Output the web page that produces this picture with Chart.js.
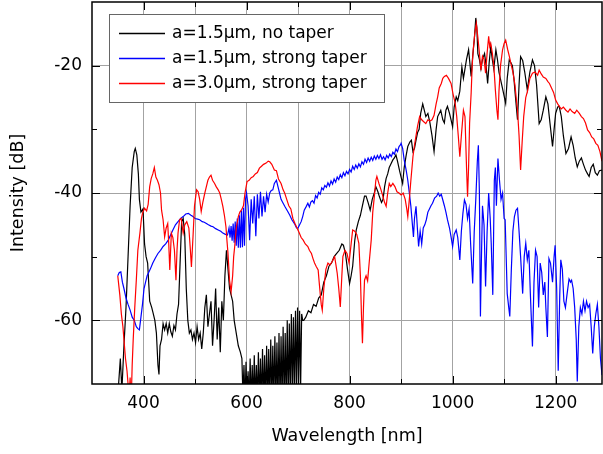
<!DOCTYPE html>
<html><head><meta charset="utf-8">
<script src="https://cdn.jsdelivr.net/npm/chart.js@4.4.0/dist/chart.umd.min.js"></script>
<style>html,body{margin:0;padding:0;background:#fff;}#wrap{width:603px;height:454px;position:relative;}</style>
</head><body><div id="wrap"><canvas id="c" width="603" height="454"></canvas></div>
<script>
// ---- DATA ----
const seriesLabels = ['a=1.5\u03bcm, no taper', 'a=1.5\u03bcm, strong taper', 'a=3.0\u03bcm, strong taper'];
const xTickLabels = [400, 600, 800, 1000, 1200];
const xGridValues = [300, 400, 500, 600, 700, 800, 900, 1000, 1100, 1200, 1290];
const yTickLabels = [-20, -40, -60];

const blackX = [350,355,358,362,366,370,374,378,382,384,387,390,392,395,399,402,405,408,412,416,419,422,425,428,430,432,435,438,441,444,447,450,453,456,459,462,465,468,471,474,477,480,483,486,489,492,495,498,501,504,507,510,513,516,519,522,525,528,531,534,537,540,543,546,549,552,555,558,561,564,567,570,573,576,580,584,588,591,
593,595,597,599,601,603,605,607,609,611,613,615,617,619,621,623,625,627,629,631,633,635,637,639,641,643,645,647,649,651,653,655,657,659,661,663,665,667,669,671,673,675,677,679,681,683,685,687,689,691,693,695,697,699,701,703,705,707,709,
711,715,720,725,730,735,740,745,750,755,760,765,770,775,780,785,788,792,796,800,803,806,810,813,817,821,825,829,832,836,840,844,848,851,855,858,862,865,868,871,874,877,880,884,887,890,893,897,900,903,906,910,913,917,920,923,926,929,932,935,938,942,945,948,952,956,960,964,968,971,974,977,981,984,987,990,994,997,1000,1003,1007,1010,1014,1018,1021,1024,1027,1031,1034,1036,1039,1042,1045,1047,1049,1052,1055,1058,1062,1065,1068,1071,1074,1077,1080,1084,1087,1090,1094,1098,1103,1106,1110,1113,1116,1119,1122,1126,1129,1132,1136,1140,1145,1150,1155,1159,1163,1168,1172,1176,1181,1185,1189,1194,1197,1200,1204,1207,1211,1215,1220,1225,1230,1234,1238,1242,1246,1250,1254,1258,1262,1265,1269,1273,1277,1281,1285,1290];
const blackY = [-72,-66,-71,-64,-58,-50,-42,-36,-33.5,-33,-34,-37,-41,-43,-42.5,-48,-50,-51,-57,-58,-59,-60,-62,-67,-68.5,-64,-63,-60.5,-61.5,-60.5,-62,-60.5,-61.8,-62.5,-60.8,-61.5,-59,-57.5,-51,-44.5,-44,-46.5,-55,-60,-62,-61.5,-63,-62,-63.5,-61,-63,-62,-64.5,-62,-58,-56,-61,-59,-57,-64,-60,-55,-63,-58,-65,-57,-60,-53,-49,-52,-55,-56,-57,-60,-62,-64,-65,-66,
-72,-67,-73,-66.5,-73,-68,-73,-66,-73,-67,-73,-65.5,-73,-67,-73,-65,-73,-66,-73,-64.5,-73,-65.5,-73,-64,-73,-64.5,-73,-63,-73,-64,-73,-62.5,-73,-63.5,-73,-62,-73,-62.5,-73,-61,-73,-62,-73,-60,-73,-60.5,-72,-59,-72,-59.5,-72,-58.5,-71,-58,-71,-58.5,-70.5,-59,-60,
-60,-59.5,-58.5,-58.8,-57.5,-57.8,-56.5,-56,-54,-53,-51.5,-51,-50,-49.5,-49,-48,-48.2,-49.5,-52,-54.2,-53,-51.5,-47.5,-45.8,-44.5,-43.5,-42,-40.5,-40.5,-41.5,-42.7,-41,-40,-39,-39.8,-40.6,-41.5,-41,-39,-37.7,-37,-36,-35.5,-34.8,-34.5,-34,-35,-36.5,-37.5,-38.5,-36,-34,-32.7,-32,-31.7,-33.5,-33,-31.7,-30.5,-30,-27.5,-26,-27,-28,-27.5,-29,-31,-33.5,-30,-28,-27.5,-27,-28.5,-29,-27,-26.4,-27.5,-28.5,-29.6,-26.5,-24.9,-25.5,-24,-20.2,-22,-20.5,-19,-17.5,-20,-21.7,-18.5,-16,-12.5,-14,-18.1,-19,-20.5,-19,-18.1,-20,-22.8,-19.5,-17,-19,-20.5,-17.5,-19,-21,-22.5,-24,-25.9,-22,-19.1,-19.5,-20,-22,-24.9,-28.5,-23,-18.6,-19.2,-21,-23.8,-21,-19.1,-20,-23,-29.1,-28.5,-27,-24.9,-26,-29,-32.7,-30,-27.5,-26.5,-26.4,-28,-31,-33.8,-33,-31.2,-32.5,-34.5,-35.9,-35,-34.5,-35.5,-36.4,-37,-37.4,-36,-35.5,-36.8,-37.2,-36.5,-36.4];

const blueX = [350,353,356,359,362,366,370,374,378,382,386,389,392,395,398,401,404,407,410,414,418,423,428,433,438,443,448,453,457,462,467,472,477,482,487,492,496,500,505,509,514,518,522,526,531,535,540,545,550,554,559,563,566,568,570,572,574,576,578,580,582,584,586,588,590,592,594,596,598,600,603,606,609,612,615,618,621,624,627,630,633,636,639,642,645,648,651,654,658,661,664,667,671,675,680,684,688,693,697,700,703,706,709,712,
716,719,722,725,728,731,734,737,740,743,746,749,752,755,758,761,764,767,770,773,776,779,782,785,788,791,794,797,800,803,806,809,812,815,818,821,824,827,830,833,836,839,842,845,848,851,854,857,860,863,866,869,872,875,878,881,884,887,890,893,896,899,
900,903,906,910,913,916,919,922,924,926,929,932,934,937,940,943,946,949,952,955,958,961,965,969,972,975,978,981,984,987,990,994,997,1000,1003,1007,1010,1014,1017,1020,1023,1026,1029,1032,1035,1039,1042,1045,1048,1050,1052,1054,1056,1058,1061,1064,1067,1070,1073,1075,1078,1081,1083,1085,1088,1091,1094,1097,1100,1102,1104,1106,1109,1111,1114,1117,1120,1123,1126,1129,1132,1136,1139,1142,1145,1148,1151,1155,1158,1161,1164,1167,1170,1173,1176,1179,1181,1184,1187,1190,1194,1197,1199,1202,1205,1208,1210,1213,1216,1219,1222,1226,1229,1231,1234,1237,1240,1242,1245,1248,1251,1254,1257,1260,1263,1266,1269,1272,1275,1278,1281,1284,1287,1290];
const blueY = [-53,-52.5,-52.4,-54,-55,-56.5,-57.5,-58.4,-59.5,-60,-61,-61.3,-61.5,-59.5,-57.5,-55,-54,-53,-52.5,-51.8,-51,-50.2,-49.5,-49,-48.4,-48,-47.4,-46.5,-45.8,-45,-44.5,-44,-43.7,-43.3,-43.2,-43.5,-43.7,-44,-44.1,-44.2,-44.5,-44.6,-44.8,-45,-45.2,-45.3,-45.6,-45.8,-46,-46.3,-46.5,-46.6,-45.5,-47,-45.2,-47.5,-44.8,-47.8,-44.5,-48.3,-44,-48.6,-43.5,-48.6,-42.8,-48.5,-42.3,-48.3,-41,-40,-42,-47.4,-41,-44.8,-40.5,-46.8,-40.2,-44,-39.8,-43.7,-40.5,-43,-40.2,-41.4,-40,-39.6,-39.5,-38.5,-38,-39,-40,-41,-41.6,-42.2,-42.9,-43.5,-44.2,-44.8,-45.5,-45.5,-45,-44.5,-43.7,-42.7,
-42.1,-41.6,-42.2,-41.4,-41.2,-41.6,-40.4,-40.8,-39.9,-40.2,-39.2,-39.5,-38.8,-39.1,-38.4,-38.9,-38.1,-38.6,-37.8,-38.3,-37.5,-37.9,-37.1,-37.6,-36.8,-37.3,-36.6,-37,-36.3,-36.7,-35.8,-36.3,-35.6,-36.1,-35.4,-35.9,-35.1,-35.5,-34.7,-35.2,-34.5,-35,-34.4,-34.9,-34.2,-34.7,-34.1,-34.6,-34,-34.7,-34.3,-34.8,-34.1,-34.5,-33.9,-34.3,-33.6,-33.9,-33.1,-33.5,-32.7,-32.4,
-32.2,-33,-34.8,-36.5,-38,-40,-42.1,-45,-46.9,-44,-42.1,-46,-48.4,-46,-48,-45.5,-45,-44.2,-43,-42.5,-42,-41.6,-40.8,-40.5,-40,-40.5,-40.2,-41.1,-42,-43,-44.2,-45.5,-46.9,-48.4,-46.5,-45.8,-47,-50.5,-46,-43.2,-41.1,-41.8,-44,-42.5,-48,-54.2,-46,-41,-35,-32.5,-40,-59.4,-50,-42,-45,-54.7,-46,-40,-44,-48,-56,-38,-36,-42,-34.6,-38,-41,-40,-44,-44.2,-50,-55.8,-58,-59.4,-52,-46,-43.7,-42.7,-42.4,-46,-50,-55.8,-50,-47.9,-50.5,-49,-56,-64.1,-54,-49,-50,-58,-51,-52.5,-56,-54,-58,-62.6,-50.3,-51,-54,-50,-48.2,-55,-67.9,-56,-50.5,-52,-57,-58,-56,-53.5,-54,-53.7,-55,-58,-63,-69.6,-61,-58,-59,-57,-58.5,-57,-58,-57.5,-61,-65.2,-61,-59,-57.5,-61,-66,-68.6];

const redX = [350,354,357,360,362,365,368,370,372,374,376,378,380,383,386,389,393,396,398,402,406,409,412,415,418,421,424,427,430,433,435,438,441,444,447,449,451,454,457,460,463,465,467,470,473,477,480,484,488,491,493,496,499,503,506,509,512,515,519,522,525,528,531,534,538,541,545,548,551,554,557,560,562,564,567,570,573,575,577,580,584,587,590,594,597,601,605,609,613,617,621,625,629,633,638,642,645,649,654,658,662,667,671,674,678,682,686,690,694,698,702,706,710,714,719,722,726,729,732,735,739,741,743,745,747,750,754,758,762,766,771,773,776,779,782,785,787,791,795,799,803,806,810,814,818,821,823,825,827,829,832,835,838,842,845,848,851,853,857,861,865,868,871,874,877,880,884,888,892,896,900,904,908,911,913,916,919,923,926,929,932,936,940,944,948,952,956,960,964,968,971,974,978,981,984,988,992,997,1001,1005,1008,1011,1014,1017,1021,1024,1027,1029,1031,1033,1036,1038,1040,1043,1046,1049,1052,1055,1058,1061,1064,1067,1070,1072,1074,1077,1080,1083,1086,1088,1090,1093,1097,1100,1103,1107,1110,1113,1117,1121,1124,1126,1129,1132,1135,1138,1142,1146,1150,1155,1160,1165,1168,1172,1176,1181,1185,1188,1192,1196,1200,1204,1207,1211,1215,1220,1224,1228,1232,1237,1241,1246,1250,1254,1258,1262,1266,1270,1274,1278,1282,1286,1290];
const redY = [-53,-56,-59,-61,-63,-66,-68,-70,-72,-69,-73,-67,-63,-58,-53.7,-49,-46.3,-44,-43.2,-42.4,-42.8,-41.8,-39,-37.7,-37,-36,-37.5,-38,-38.7,-40,-42.7,-44.2,-46.9,-45.5,-44.8,-48,-52.1,-46.3,-47,-49,-53.7,-49,-46.3,-44.2,-44,-46.3,-45,-44.5,-45.5,-49,-51.6,-47,-42,-39.5,-39.8,-41,-42.9,-41.5,-40,-39,-38,-37.5,-37.2,-38,-38.5,-39,-39.5,-40,-41,-42.1,-43.5,-45.3,-47.5,-49.5,-53.7,-55.5,-53,-50,-48.4,-45.5,-43.7,-43,-42.7,-42,-40,-38.2,-38,-37.6,-37.4,-37,-36.8,-36.1,-35.8,-35.5,-35.3,-35,-35.1,-35.5,-36.4,-36.5,-37.8,-38.5,-39.5,-40,-41,-42,-42.5,-44,-44.8,-45.5,-46.2,-47,-47.4,-48,-48.4,-49,-49.5,-50.3,-51,-51.5,-52.1,-54,-55.8,-57.5,-58.4,-55,-52,-51,-51.3,-50.8,-50,-51,-52.6,-55,-57.9,-53,-50,-49,-49.5,-51,-48,-45.8,-46,-46.5,-47.9,-53,-59,-63.6,-58,-53.7,-53,-53.8,-51,-47.4,-43,-40.6,-38,-37.4,-38.5,-39.5,-40.6,-41.5,-42.1,-40,-38.5,-39,-38.5,-39,-39.8,-40,-40.3,-40,-41,-42.5,-43.7,-41,-38,-34.3,-32.5,-31,-29.5,-28,-28.5,-28.8,-29.1,-28.5,-28.7,-28.5,-27.8,-26,-24.9,-23.5,-22.8,-22,-21.7,-21.5,-22,-22.8,-24.5,-25.9,-28,-31,-34.3,-31,-27,-28,-35.9,-40.6,-36,-29,-24.3,-20,-17.5,-15,-13.4,-15.5,-18,-20.7,-18.5,-19,-21.2,-18,-15.4,-17,-16.5,-18,-20,-23.8,-27,-28.5,-24,-20,-17.5,-16.5,-16,-17.5,-18.5,-19.6,-21,-23,-25.5,-27,-31,-36.4,-32,-28,-25,-23.8,-22,-21.2,-21,-21.5,-20.7,-21.3,-21.8,-22,-22.5,-22.8,-23.5,-24.2,-25.4,-26,-26.4,-26.8,-26.5,-27,-27.3,-26.8,-27.2,-27.5,-27,-27.5,-28,-28.3,-29,-30.1,-30.5,-31.2,-31.5,-32.2,-32.5,-33.5,-35];

// ---- BUILD ----
const pts = (xs, ys) => xs.map((x, i) => ({ x: x, y: ys[i] }));
const seriesColors = ['#000000', '#0000ff', '#ff0000'];
const FONT = 'DejaVu Sans';

const framePlugin = {
  id: 'frame',
  afterDatasetsDraw(chart) {
    const ctx = chart.ctx, a = chart.chartArea;
    const xs = chart.scales.x, ys = chart.scales.y;
    ctx.save();
    ctx.strokeStyle = '#000';
    ctx.lineWidth = 1;
    ctx.beginPath();
    for (let v = 400; v <= 1200; v += 100) {
      const px = Math.round(xs.getPixelForValue(v)) + 0.5;
      const len = (v % 200 === 0) ? 8 : 5;
      ctx.moveTo(px, a.bottom); ctx.lineTo(px, a.bottom - len);
      ctx.moveTo(px, a.top); ctx.lineTo(px, a.top + len);
    }
    for (let v = -60; v <= -20; v += 10) {
      const py = Math.round(ys.getPixelForValue(v)) + 0.5;
      const len = (v % 20 === 0) ? 8 : 5;
      ctx.moveTo(a.left, py); ctx.lineTo(a.left + len, py);
      ctx.moveTo(a.right, py); ctx.lineTo(a.right - len, py);
    }
    ctx.stroke();
    ctx.lineWidth = 1.5;
    ctx.strokeRect(a.left, a.top, a.right - a.left, a.bottom - a.top);
    // legend
    const bx = 109.5, by = 14.5, bw = 275, bh = 88;
    ctx.fillStyle = '#fff';
    ctx.fillRect(bx, by, bw, bh);
    ctx.lineWidth = 1;
    ctx.strokeStyle = '#666';
    ctx.strokeRect(bx, by, bw, bh);
    ctx.font = '17px "' + FONT + '"';
    ctx.textBaseline = 'middle';
    ctx.textAlign = 'left';
    seriesLabels.forEach((lab, i) => {
      const y = 33 + i * 25;
      ctx.strokeStyle = seriesColors[i];
      ctx.lineWidth = 1.3;
      ctx.beginPath(); ctx.moveTo(119, y + 0.5); ctx.lineTo(165, y + 0.5); ctx.stroke();
      ctx.fillStyle = '#000';
      ctx.fillText(lab, 172, y + 1);
    });
    ctx.restore();
  }
};

new Chart(document.getElementById('c'), {
  type: 'scatter',
  data: {
    datasets: [
      { label: seriesLabels[0], data: pts(blackX, blackY), borderColor: seriesColors[0], order: 3 },
      { label: seriesLabels[1], data: pts(blueX, blueY), borderColor: seriesColors[1], order: 2 },
      { label: seriesLabels[2], data: pts(redX, redY), borderColor: seriesColors[2], order: 1 }
    ].map(d => Object.assign(d, { showLine: true, borderWidth: 1.2, pointRadius: 0, tension: 0, fill: false, clip: 0 }))
  },
  options: {
    responsive: false,
    devicePixelRatio: 1,
    animation: false,
    layout: { padding: { top: 2, right: 1, bottom: 0, left: 0 } },
    plugins: { legend: { display: false }, tooltip: { enabled: false } },
    scales: {
      x: {
        type: 'linear', position: 'bottom', min: 300, max: 1290,
        border: { display: false },
        afterBuildTicks: s => { s.ticks = xGridValues.map(v => ({ value: v })); },
        grid: {
          drawTicks: false, lineWidth: 1,
          color: c => (c.tick && c.tick.value > 300 && c.tick.value < 1290) ? '#a3a3a3' : 'rgba(0,0,0,0)'
        },
        ticks: {
          autoSkip: false, maxRotation: 0, minRotation: 0, padding: 9, color: '#000',
          font: { family: FONT, size: 17 },
          callback: function (v) { return xTickLabels.indexOf(Math.round(v)) >= 0 ? String(Math.round(v)) : ''; }
        },
        title: { display: true, text: 'Wavelength [nm]', color: '#000', font: { family: FONT, size: 17.5 }, padding: { top: 0, bottom: 7 } },
        afterFit: s => { s.height = 70; s.paddingLeft = 0; s.paddingRight = 0; }
      },
      y: {
        type: 'linear', position: 'left', min: -70, max: -10,
        border: { display: false },
        grid: {
          drawTicks: false, lineWidth: 1,
          color: c => (c.tick && yTickLabels.includes(c.tick.value)) ? '#a3a3a3' : 'rgba(0,0,0,0)'
        },
        ticks: {
          stepSize: 10, padding: 10, color: '#000',
          font: { family: FONT, size: 17 },
          callback: v => yTickLabels.includes(v) ? String(v) : ''
        },
        title: { display: true, text: 'Intensity [dB]', color: '#000', font: { family: FONT, size: 17.5 }, padding: { top: 8, bottom: 0 } },
        afterFit: s => { s.width = 92; s.paddingTop = 0; s.paddingBottom = 0; }
      }
    }
  },
  plugins: [framePlugin]
});
</script></body></html>
